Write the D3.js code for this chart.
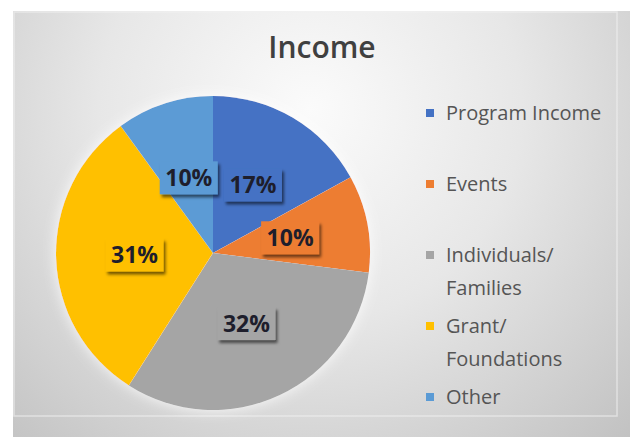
<!DOCTYPE html>
<html>
<head>
<meta charset="utf-8">
<script src="https://cdn.jsdelivr.net/npm/d3@7"></script>
<style>
  body { margin: 0; background: #fff; }
  text { font-family: "Open Sans", sans-serif; }
</style>
</head>
<body>
<div id="container"></div>
<script>
/* CONSTANTS AND GLOBALS */
const width = 635,
  height = 437,
  cx = 213, cy = 253, radius = 157;

/* DATA */
const categories = ["Program Income", "Events", "Individuals/ Families", "Grant/ Foundations", "Other"];
const legendLines = [["Program Income"], ["Events"], ["Individuals/", "Families"], ["Grant/", "Foundations"], ["Other"]];
const shares = [17, 10, 32, 31, 10];
const colors = ["#4472C4", "#ED7D31", "#A5A5A5", "#FFC000", "#5B9BD5"];

const data = categories.map((c, i) => ({ name: c, value: shares[i], lines: legendLines[i] }));

const color = d3.scaleOrdinal().domain(categories).range(colors);

const svg = d3.select("#container")
  .append("svg")
  .attr("width", width)
  .attr("height", height);

const defs = svg.append("defs");
const grad = defs.append("radialGradient")
  .attr("id", "bg")
  .attr("gradientUnits", "userSpaceOnUse")
  .attr("cx", 310).attr("cy", 110).attr("r", 470);
grad.append("stop").attr("offset", "0%").attr("stop-color", "#fbfbfb");
grad.append("stop").attr("offset", "45%").attr("stop-color", "#e7e7e7");
grad.append("stop").attr("offset", "100%").attr("stop-color", "#c0c0c0");

const shadow = defs.append("filter").attr("id", "shadow")
  .attr("x", "-30%").attr("y", "-30%").attr("width", "170%").attr("height", "170%");
shadow.append("feDropShadow")
  .attr("dx", 2).attr("dy", 3).attr("stdDeviation", 1.8)
  .attr("flood-color", "#000").attr("flood-opacity", 0.55);

const glow = defs.append("filter").attr("id", "glow")
  .attr("x", "-20%").attr("y", "-20%").attr("width", "140%").attr("height", "140%");
glow.append("feDropShadow")
  .attr("dx", 0).attr("dy", 0).attr("stdDeviation", 7)
  .attr("flood-color", "#fff").attr("flood-opacity", 0.85);

// background
svg.append("rect")
  .attr("x", 13).attr("y", 11)
  .attr("width", 617).attr("height", 426)
  .attr("fill", "url(#bg)");
svg.append("rect")
  .attr("x", 14).attr("y", 12)
  .attr("width", 603).attr("height", 404)
  .attr("fill", "none")
  .attr("stroke", "#f2f2f2")
  .attr("stroke-opacity", 0.6)
  .attr("stroke-width", 1.5);

// title
svg.append("text")
  .attr("x", 322).attr("y", 58)
  .attr("text-anchor", "middle")
  .attr("font-size", 30)
  .attr("font-weight", 600)
  .attr("fill", "#404040")
  .text("Income");

// PIE
const pie = d3.pie().sort(null).value(d => d.value);
const arcGen = d3.arc().innerRadius(0).outerRadius(radius);
const arcs = pie(data);

const g = svg.append("g").attr("transform", `translate(${cx}, ${cy})`);

g.append("g")
  .attr("filter", "url(#glow)")
  .selectAll(".slice")
  .data(arcs)
  .join("path")
  .attr("class", "slice")
  .attr("fill", d => color(d.data.name))
  .attr("d", arcGen);

// DATA LABELS
const labels = g.selectAll(".label")
  .data(arcs)
  .join("g")
  .attr("class", "label")
  .attr("transform", d => `translate(${arcGen.centroid(d)})`);

labels.append("rect")
  .attr("x", -29).attr("y", -17)
  .attr("width", 58).attr("height", 33)
  .attr("fill", d => color(d.data.name))
  .attr("filter", "url(#shadow)");

labels.append("text")
  .attr("text-anchor", "middle")
  .attr("y", 8)
  .attr("font-size", 23)
  .attr("font-weight", 700)
  .attr("fill", "#1e1e2c")
  .text(d => d.data.value + "%");

// LEGEND
const yLegend = d3.scalePoint().domain(categories).range([113, 397]);

const legend = svg.selectAll(".legend")
  .data(data)
  .join("g")
  .attr("class", "legend")
  .attr("transform", d => `translate(426, ${yLegend(d.name)})`);

legend.append("rect")
  .attr("x", 0).attr("y", -4)
  .attr("width", 8).attr("height", 8)
  .attr("fill", d => color(d.name));

legend.append("text")
  .attr("x", 20)
  .attr("font-size", 20)
  .attr("fill", "#555")
  .selectAll("tspan")
  .data(d => d.lines)
  .join("tspan")
  .attr("x", 20)
  .attr("y", (d, i) => 7 + i * 33)
  .text(d => d);
</script>
</body>
</html>
